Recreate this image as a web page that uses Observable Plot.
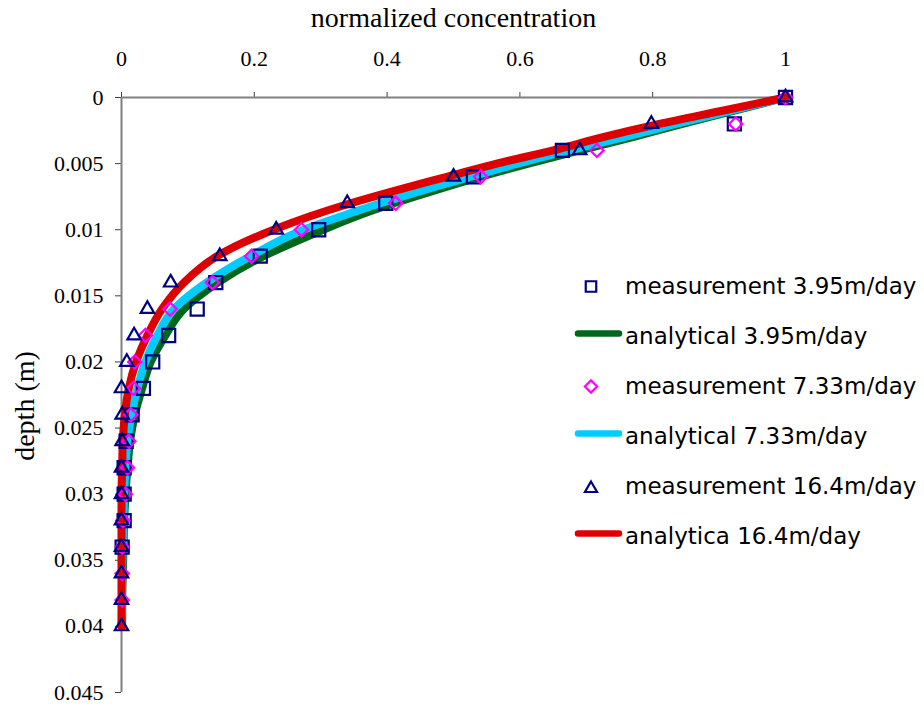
<!DOCTYPE html>
<html>
<head>
<meta charset="utf-8">
<script src="https://cdn.jsdelivr.net/npm/d3@7"></script>
<script src="https://cdn.jsdelivr.net/npm/@observablehq/plot@0.6"></script>
<style>
  body { margin: 0; background: #fff; }
  #wrap { position: relative; width: 924px; height: 706px; }
  #wrap svg { display: block; }
</style>
</head>
<body>
<div id="wrap"></div>
<script>
// ---- tick labels ----
const xTicks = [0, 0.2, 0.4, 0.6, 0.8, 1];
const yTicks = [0, 0.005, 0.01, 0.015, 0.02, 0.025, 0.03, 0.035, 0.04, 0.045];

// ---- measurements (depth in m, normalized concentration) ----
const measDepth = [0, 0.002, 0.004, 0.006, 0.008, 0.010, 0.012, 0.014, 0.016, 0.018, 0.020,
                   0.022, 0.024, 0.026, 0.028, 0.030, 0.032, 0.034, 0.036, 0.038, 0.040];
const meas395 = [1, 0.923, 0.664, 0.530, 0.398, 0.297, 0.209, 0.142, 0.114, 0.071, 0.047,
                 0.033, 0.016, 0.007, 0.004, 0.004, 0.004, 0.001];
const meas733 = [1, 0.925, 0.716, 0.541, 0.413, 0.271, 0.196, 0.137, 0.073, 0.036, 0.020,
                 0.018, 0.014, 0.011, 0.009, 0.006, 0.002, 0.001, 0.001, 0.001];
const meas164 = [1, 0.798, 0.690, 0.500, 0.340, 0.233, 0.148, 0.074, 0.039, 0.019, 0.008,
                 0.000, 0.001, 0.001, 0.000, 0.000, 0.000, 0.000, 0.000, 0.000, 0.000];

// ---- analytical curves ----
const curveDepth = [0, 0.001, 0.002, 0.003, 0.004, 0.005, 0.006, 0.007, 0.008, 0.009, 0.010,
                    0.012, 0.014, 0.016, 0.018, 0.020, 0.022, 0.024, 0.026, 0.028, 0.030,
                    0.032, 0.034, 0.036, 0.038, 0.040];
const ana395 = [1, 0.923, 0.845, 0.770, 0.690, 0.613, 0.540, 0.473, 0.410, 0.353, 0.304,
                0.214, 0.145, 0.094, 0.066, 0.044, 0.031, 0.020, 0.013, 0.009, 0.006,
                0.004, 0.003, 0.002, 0.001, 0.001];
const ana733 = [1, 0.918, 0.835, 0.757, 0.675, 0.597, 0.525, 0.455, 0.390, 0.330, 0.274,
                0.194, 0.128, 0.079, 0.054, 0.036, 0.024, 0.015, 0.009, 0.006, 0.004,
                0.003, 0.002, 0.001, 0.001, 0.000];
const ana164 = [1, 0.905, 0.810, 0.725, 0.650, 0.565, 0.490, 0.415, 0.345, 0.283, 0.229,
                0.144, 0.094, 0.061, 0.039, 0.022, 0.011, 0.005, 0.002, 0.001, 0.000,
                0.000, 0.000, 0.000, 0.000, 0.000];

const legendLabels = ["measurement 3.95m/day", "analytical 3.95m/day",
                      "measurement 7.33m/day", "analytical 7.33m/day",
                      "measurement 16.4m/day", "analytica 16.4m/day"];

const NAVY = "#000080", MAGENTA = "#ff00ff";
const GREEN = "#00661a", CYAN = "#00ccff", RED = "#dd0000";
const SERIF = "Liberation Serif, LiberationSerif, Tinos, Times New Roman, Times, Nimbus Roman, Noto Serif, DejaVu Serif, FreeSerif, serif";

const pts = (vals, depths) => vals.map((c, i) => ({c, d: depths[i]}));

const chart = Plot.plot({
  width: 924, height: 706,
  marginLeft: 121, marginRight: 139, marginTop: 97, marginBottom: 14,
  style: {fontSize: "22px", background: "#fff", color: "#000", overflow: "visible"},
  x: {domain: [0, 1]},
  y: {domain: [0, 0.045], reverse: true},
  marks: [
    Plot.axisX({anchor: "top", ticks: xTicks, tickFormat: d => String(d), tickSize: 6, tickPadding: 26, label: null, stroke: "#404040", fontFamily: SERIF}),
    Plot.axisY({anchor: "left", ticks: yTicks, tickFormat: d => String(d), tickSize: 6, tickPadding: 12, label: null, stroke: "#404040", fontFamily: SERIF}),
    Plot.ruleY([0], {stroke: "#808080", strokeWidth: 2}),
    Plot.ruleX([0], {stroke: "#808080", strokeWidth: 2}),
    Plot.line(pts(ana395, curveDepth), {x: "c", y: "d", stroke: GREEN, strokeWidth: 8, curve: "monotone-y"}),
    Plot.line(pts(ana733, curveDepth), {x: "c", y: "d", stroke: CYAN, strokeWidth: 8, curve: "monotone-y"}),
    Plot.line(pts(ana164, curveDepth), {x: "c", y: "d", stroke: RED, strokeWidth: 8, curve: "monotone-y"}),
    Plot.dot(pts(meas395, measDepth), {x: "c", y: "d", symbol: "square", r: 7.4, fill: "none", stroke: NAVY, strokeWidth: 2.2}),
    Plot.dot(pts(meas733, measDepth), {x: "c", y: "d", symbol: "diamond2", r: 6.0, fill: "none", stroke: MAGENTA, strokeWidth: 2.2}),
    Plot.dot(pts(meas164, measDepth), {x: "c", y: "d", symbol: "triangle2", r: 6.4, fill: "none", stroke: NAVY, strokeWidth: 2.2}),
    Plot.text(["normalized concentration"], {text: d => d, frameAnchor: "top", textAnchor: "middle", dy: -79, fontSize: 28, lineAnchor: "middle", fontFamily: SERIF}),
    Plot.text(["depth (m)"], {text: d => d, frameAnchor: "left", textAnchor: "middle", dx: -96, dy: 11, rotate: -90, fontSize: 28, lineAnchor: "middle", fontFamily: SERIF})
  ]
});
d3.select(chart).selectAll("text").style("font-family", SERIF);

const wrap = document.getElementById("wrap");
wrap.appendChild(chart);

// ---- legend overlay ----
const leg = d3.select(wrap).append("svg")
  .attr("width", 924).attr("height", 706)
  .style("position", "absolute").style("left", "0px").style("top", "0px");

const kinds = [
  {type: "sym", sym: d3.symbolSquare, size: 110, stroke: NAVY},
  {type: "line", stroke: GREEN},
  {type: "sym", sym: d3.symbolDiamond2, size: 95, stroke: MAGENTA},
  {type: "line", stroke: CYAN},
  {type: "sym", sym: d3.symbolTriangle2, size: 105, stroke: NAVY},
  {type: "line", stroke: RED}
];
legendLabels.forEach((label, i) => {
  const base = 293.5 + i * 50;
  const k = kinds[i];
  if (k.type === "sym") {
    leg.append("path")
      .attr("d", d3.symbol(k.sym, k.size)())
      .attr("transform", `translate(591,${base - 7 + (k.sym === d3.symbolTriangle2 ? 2 : 0)})`)
      .attr("fill", "none").attr("stroke", k.stroke).attr("stroke-width", 2.2);
  } else {
    leg.append("line")
      .attr("x1", 578).attr("x2", 619)
      .attr("y1", base - 10).attr("y2", base - 10)
      .attr("stroke", k.stroke).attr("stroke-width", 6.5).attr("stroke-linecap", "round");
  }
  leg.append("text")
    .attr("x", 625).attr("y", base)
    .style("font-family", "'DejaVu Sans', Verdana, sans-serif")
    .attr("font-size", 23).attr("fill", "#000")
    .text(label);
});
</script>
</body>
</html>
